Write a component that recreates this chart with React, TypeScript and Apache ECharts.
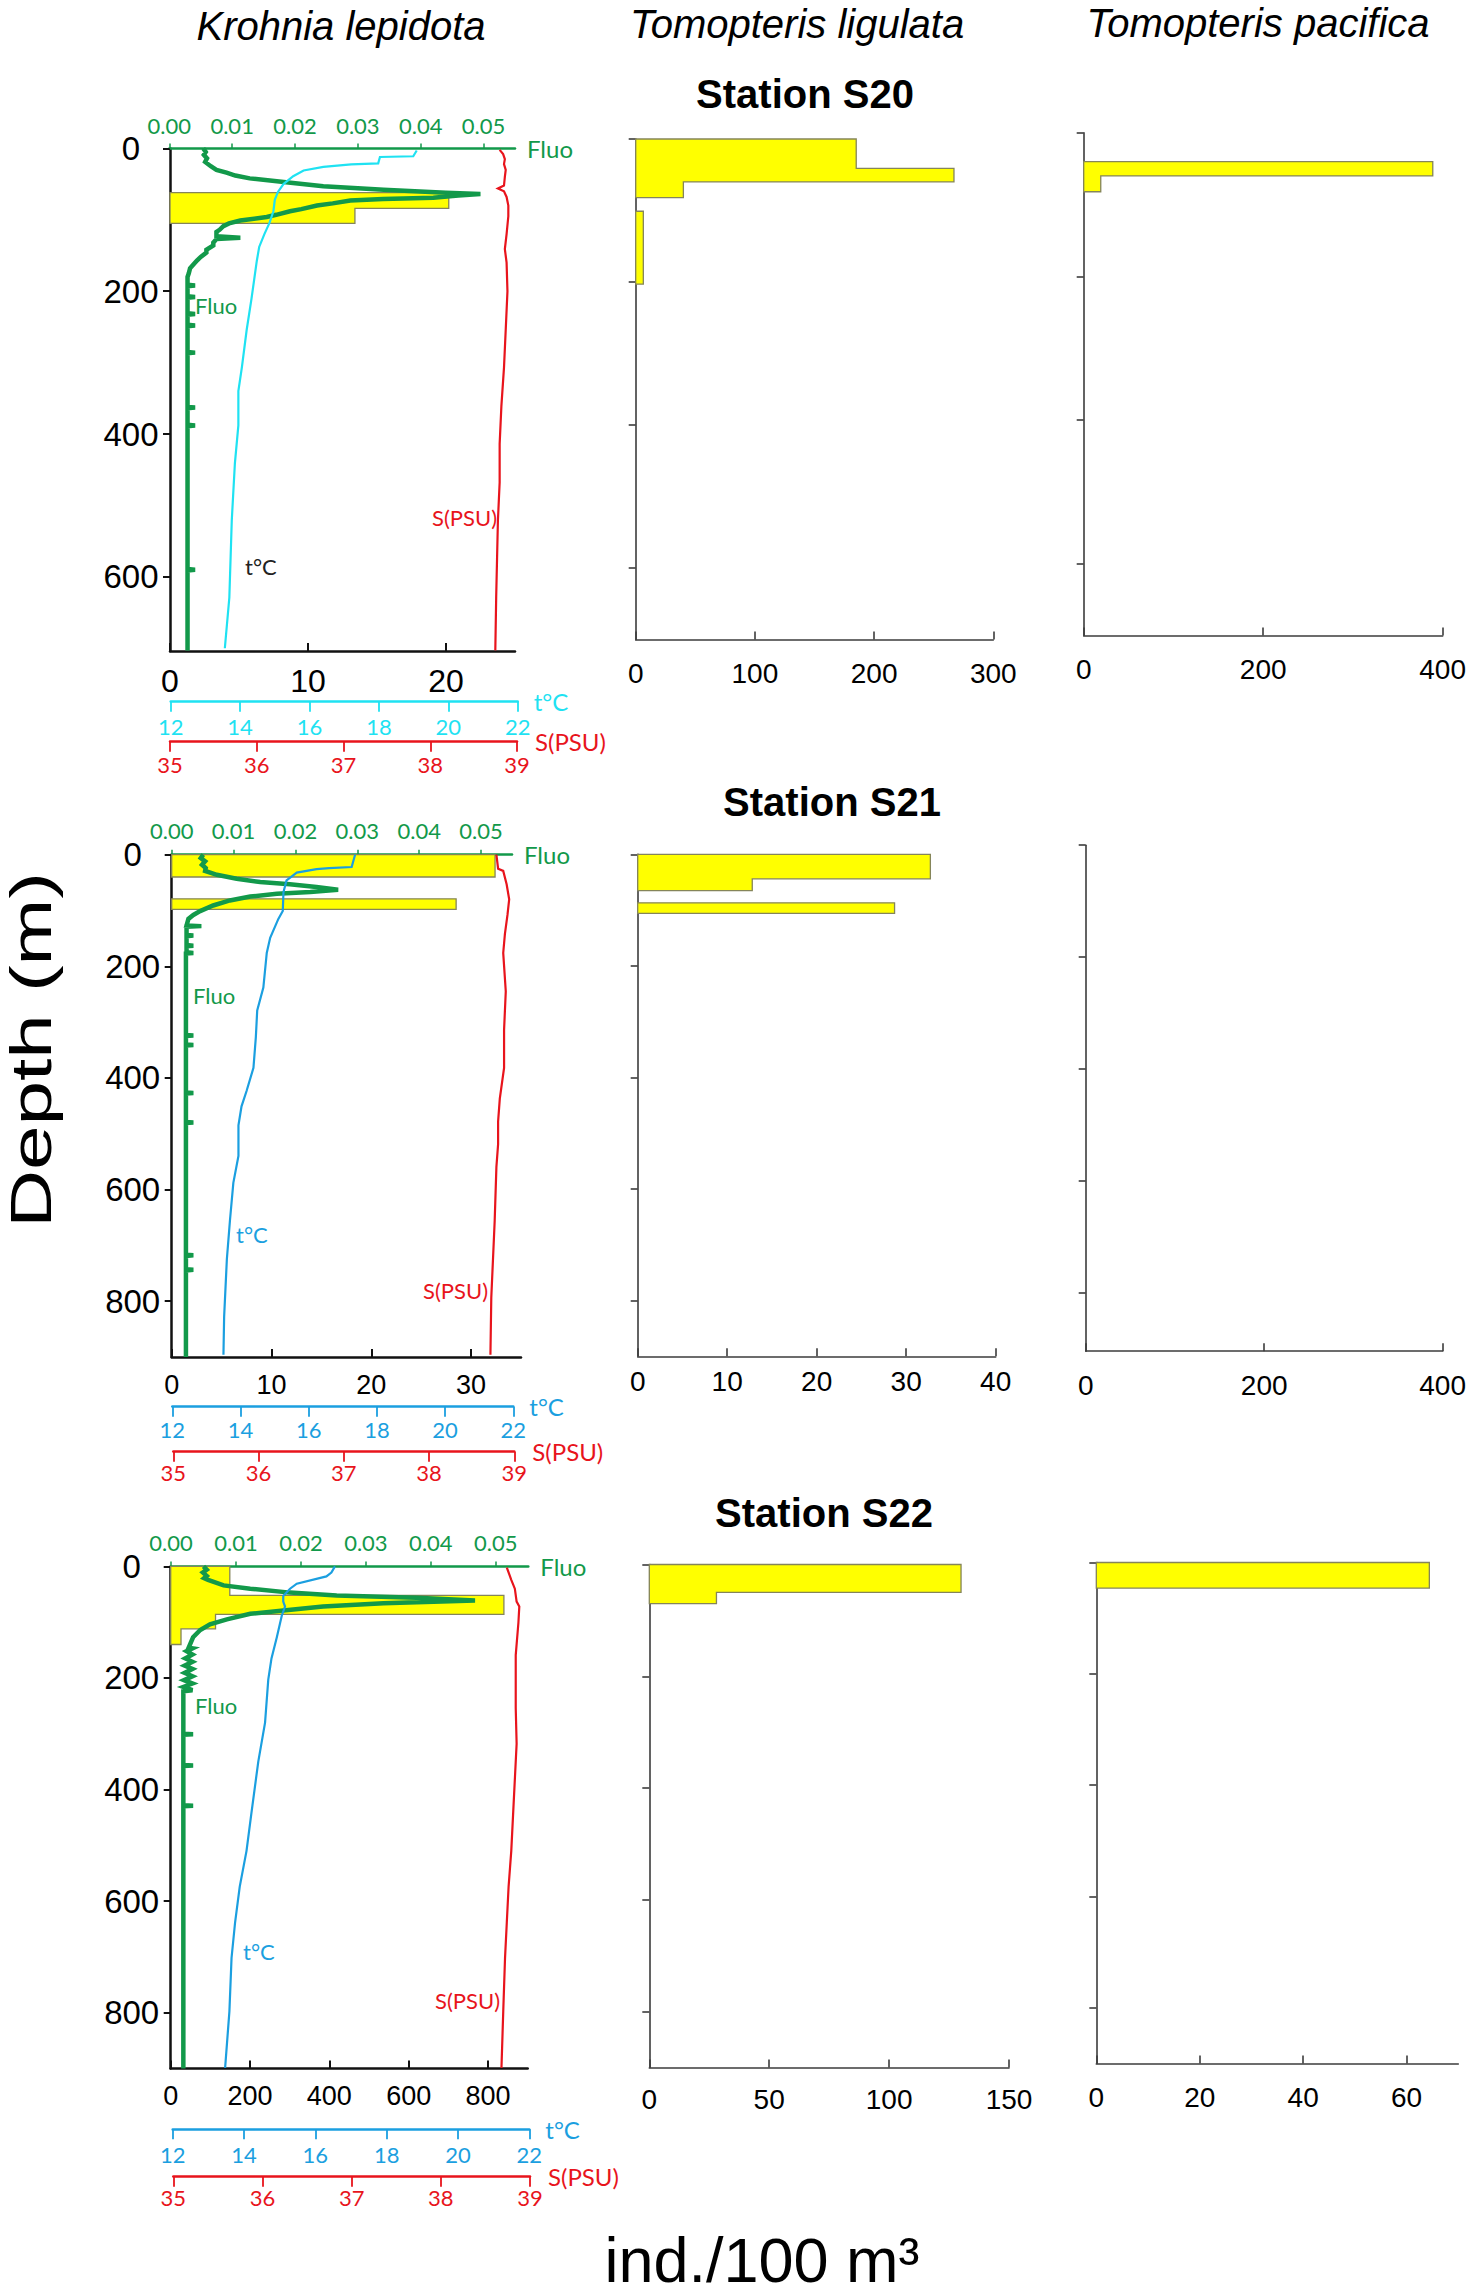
import React, { useEffect, useRef } from "react";
import * as echarts from "echarts";

// ---------------- texts ----------------
const speciesNames = ["Krohnia lepidota", "Tomopteris ligulata", "Tomopteris pacifica"];
const stationNames = ["Station S20", "Station S21", "Station S22"];
const depthAxisTitle = "Depth (m)";
const abundanceTitle = "ind./100 m³";

// ---------------- tick values ----------------
const depthTicksS20 = [0, 200, 400, 600];
const depthTicksDeep = [0, 200, 400, 600, 800];
const fluoTicks = [0, 0.01, 0.02, 0.03, 0.04, 0.05];
const tempTicks = [12, 14, 16, 18, 20, 22];
const salTicks = [35, 36, 37, 38, 39];

const krohniaTicksS20 = [0, 10, 20];
const krohniaTicksS21 = [0, 10, 20, 30];
const krohniaTicksS22 = [0, 200, 400, 600, 800];
const ligulataTicksS20 = [0, 100, 200, 300];
const ligulataTicksS21 = [0, 10, 20, 30, 40];
const ligulataTicksS22 = [0, 50, 100, 150];
const pacificaTicksS20 = [0, 200, 400];
const pacificaTicksS21 = [0, 200, 400];
const pacificaTicksS22 = [0, 20, 40, 60];

// ---------------- abundance bins: [top depth m, bottom depth m, ind./100 m3], contiguous layers grouped ----------------
const krohniaS20 = [[[62, 84, 20.2], [84, 105, 13.4]]];
const krohniaS21 = [[[0, 40, 32.4]], [[79, 98, 28.5]]];
const krohniaS22 = [[[0, 52, 149], [52, 86, 840], [86, 112, 113], [112, 140, 26]]];
const ligulataS20 = [[[0, 41, 185], [41, 60, 267], [60, 82, 40]], [[101, 203, 6.4]]];
const ligulataS21 = [[[0, 44, 32.7], [44, 65, 12.8]], [[87, 106, 28.7]]];
const ligulataS22 = [[[0, 50, 130], [50, 70, 28]]];
const pacificaS20 = [[[40, 60, 389], [60, 82, 19]]];
const pacificaS21: number[][][] = [];
const pacificaS22 = [[[0, 46, 64.4]]];

// ---------------- CTD profiles: [value, depth m] ----------------
const fluoS20 = [
  [0.0054, 0], [0.0058, 5], [0.0055, 9], [0.006, 14], [0.0057, 19], [0.0066, 25], [0.0075, 30], [0.0091, 34],
  [0.0105, 38], [0.0128, 42], [0.0182, 47], [0.0245, 53], [0.0341, 58], [0.044, 62], [0.0495, 64], [0.046, 66],
  [0.042, 69], [0.034, 71], [0.0288, 73], [0.026, 77], [0.0235, 80], [0.021, 85], [0.0192, 88], [0.017, 93],
  [0.0155, 96], [0.0113, 101], [0.0095, 105], [0.0086, 109], [0.008, 114], [0.0075, 117], [0.0075, 123],
  [0.0113, 125], [0.0075, 127], [0.007, 132], [0.007, 136], [0.0059, 142], [0.0059, 146], [0.005, 152],
  [0.0044, 157], [0.0038, 163], [0.0033, 168], [0.0031, 175], [0.0029, 180], [0.0029, 191], [0.0041, 192],
  [0.0029, 193], [0.0029, 207], [0.0041, 208], [0.0029, 209], [0.0029, 231], [0.0041, 232], [0.0029, 233],
  [0.0029, 247], [0.0041, 248], [0.0029, 249], [0.0029, 285], [0.0041, 286], [0.0029, 287], [0.0029, 362],
  [0.0041, 363], [0.0029, 364], [0.0029, 387], [0.0041, 388], [0.0029, 389], [0.0029, 589], [0.0041, 590],
  [0.0029, 591], [0.0029, 703],
];
const tempS20 = [
  [19.09, 3], [18.99, 11], [18.03, 12], [17.98, 21], [17.2, 22.5], [16.4, 26], [15.83, 31], [15.53, 39],
  [15.25, 50], [15.09, 61], [15.0, 72], [14.96, 88], [14.85, 104], [14.7, 120], [14.55, 138], [14.48, 158],
  [14.33, 210], [14.19, 254], [14.05, 307], [13.95, 340], [13.95, 388], [13.85, 441], [13.76, 521],
  [13.69, 629], [13.56, 700],
];
const salS20 = [
  [38.8, 2], [38.84, 8], [38.86, 15], [38.85, 22], [38.87, 30], [38.86, 40], [38.85, 52], [38.78, 56],
  [38.85, 60], [38.88, 68], [38.9, 80], [38.9, 95], [38.88, 120], [38.86, 141], [38.88, 160], [38.89, 200],
  [38.87, 254], [38.85, 307], [38.82, 361], [38.8, 414], [38.8, 468], [38.78, 521], [38.77, 575],
  [38.76, 629], [38.75, 703],
];

const fluoS21 = [
  [0.0051, 0], [0.0047, 6], [0.0054, 12], [0.0049, 18], [0.0055, 24], [0.0054, 29], [0.0073, 36],
  [0.0105, 43], [0.0143, 49], [0.0191, 53], [0.0234, 58], [0.0269, 63], [0.0224, 67], [0.017, 70],
  [0.0127, 75], [0.0094, 82], [0.0067, 91], [0.0046, 101], [0.0035, 108], [0.0027, 115], [0.0024, 127],
  [0.0048, 128], [0.0024, 129], [0.0024, 144], [0.0035, 145], [0.0024, 146], [0.0024, 162], [0.0035, 163],
  [0.0024, 164], [0.0024, 175], [0.0035, 176], [0.0023, 177], [0.0023, 323], [0.0035, 324], [0.0023, 325],
  [0.0023, 340], [0.0035, 341], [0.0023, 342], [0.0023, 426], [0.0035, 427], [0.0023, 428], [0.0023, 479],
  [0.0035, 480], [0.0023, 481], [0.0023, 717], [0.0035, 718], [0.0023, 719], [0.0023, 743], [0.0035, 744],
  [0.0023, 745], [0.0023, 900],
];
const tempS21 = [
  [17.36, 0], [17.26, 22], [16.6, 24], [16.23, 26], [15.65, 32], [15.35, 46], [15.26, 67], [15.24, 101],
  [15.11, 115], [14.87, 149], [14.77, 176], [14.67, 238], [14.49, 279], [14.45, 327], [14.38, 382],
  [14.18, 423], [14.03, 451], [13.94, 485], [13.94, 540], [13.79, 588], [13.69, 656], [13.6, 725],
  [13.52, 828], [13.5, 896],
];
const salS21 = [
  [38.79, 0], [38.81, 25], [38.87, 29], [38.91, 53], [38.94, 80], [38.92, 108], [38.89, 142], [38.87, 176],
  [38.9, 245], [38.88, 314], [38.88, 382], [38.83, 437], [38.81, 478], [38.81, 519], [38.79, 560],
  [38.77, 656], [38.75, 725], [38.73, 794], [38.72, 896],
];

const fluoS22 = [
  [0.005, 0], [0.0055, 6], [0.0049, 11], [0.0055, 17], [0.0051, 21], [0.0057, 24], [0.0081, 34], [0.0122, 40],
  [0.0183, 47], [0.0255, 52], [0.0378, 56], [0.0468, 61], [0.0327, 66], [0.0234, 72], [0.0173, 79],
  [0.0122, 85], [0.0086, 95], [0.006, 104], [0.0045, 114], [0.0034, 127], [0.0027, 146], [0.0033, 147],
  [0.0024, 152], [0.0033, 158], [0.0022, 165], [0.0033, 171], [0.0021, 178], [0.0033, 184], [0.0021, 191],
  [0.0033, 197], [0.002, 204], [0.0033, 210], [0.0019, 216], [0.0033, 222], [0.0019, 224], [0.0019, 300],
  [0.0034, 301], [0.0019, 302], [0.0019, 356], [0.0034, 357], [0.0019, 358], [0.0019, 428], [0.0034, 429],
  [0.0019, 430], [0.0019, 900],
];
const tempS22 = [
  [16.55, 0], [16.45, 11], [16.31, 18], [15.48, 31], [15.29, 40], [15.1, 53], [15.1, 63], [15.15, 72],
  [15.06, 88], [14.92, 127], [14.77, 165], [14.68, 203], [14.59, 280], [14.4, 350], [14.2, 446],
  [14.07, 510], [13.88, 574], [13.75, 638], [13.65, 702], [13.59, 798], [13.47, 899],
];
const salS22 = [
  [38.74, 2], [38.79, 24], [38.83, 40], [38.85, 63], [38.88, 72], [38.87, 101], [38.84, 159], [38.84, 254],
  [38.85, 318], [38.81, 446], [38.79, 510], [38.76, 574], [38.74, 638], [38.72, 702], [38.7, 798],
  [38.68, 899],
];

// ---------------- styles ----------------
const FONT = "'Liberation Sans', Arial, sans-serif";
const FONT2 = "Lato, 'Open Sans', sans-serif";
const GREEN = "#12994a";
const RED = "#e8141c";
const CYAN = "#1fe2f2";
const BLUE = "#1b9fe0";
const BLACK = "#111111";
const THIN = "#3c3c3c";
const YELLOW = "#ffff00";
const BAR_EDGE = "#85855a";

function buildOption() {
  const grids: any[] = [];
  const xAxes: any[] = [];
  const yAxes: any[] = [];
  const series: any[] = [];
  const graphics: any[] = [];

  const addGrid = (g: any) => {
    grids.push({ ...g, containLabel: false });
    return grids.length - 1;
  };
  const addX = (a: any) => {
    xAxes.push(a);
    return xAxes.length - 1;
  };
  const addY = (a: any) => {
    yAxes.push(a);
    return yAxes.length - 1;
  };
  const hiddenX = (gi: number, min: number, max: number) =>
    addX({ gridIndex: gi, type: "value", min, max, show: false });
  const hiddenY = (gi: number, min: number, max: number, inverse = true) =>
    addY({ gridIndex: gi, type: "value", min, max, inverse, show: false });

  const barSeries = (groups: number[][][], xi: number, yi: number) => ({
    type: "custom",
    xAxisIndex: xi,
    yAxisIndex: yi,
    clip: false,
    z: 1,
    silent: true,
    data: groups.map((g, i) => [g[0][2], g[0][0], i]),
    renderItem: (params: any, api: any) => {
      const g = groups[params.dataIndex];
      const pts: number[][] = [];
      pts.push(api.coord([0, g[0][0]]));
      g.forEach((b) => {
        pts.push(api.coord([b[2], b[0]]));
        pts.push(api.coord([b[2], b[1]]));
      });
      pts.push(api.coord([0, g[g.length - 1][1]]));
      return {
        type: "polygon",
        shape: { points: pts },
        style: { fill: YELLOW, stroke: BAR_EDGE, lineWidth: 1.3 },
      };
    },
  });

  const lineSeries = (data: number[][], xi: number, yi: number, color: string, width: number, z: number) => ({
    type: "line",
    xAxisIndex: xi,
    yAxisIndex: yi,
    data,
    showSymbol: false,
    symbol: "none",
    silent: true,
    z,
    lineStyle: { color, width, join: "miter" },
  });

  // ---------- Krohnia panels ----------
  const kPanels = [
    {
      top: 148.4, height: 502.7, depthMax: 704, depthTicks: depthTicksS20,
      abLeft: 170, abWidth: 345, abMax: 25, abTicks: krohniaTicksS20, abFont: 32, abMargin: 14,
      fluoLeft: 169.3, fluoWidth: 345.7, fluoMargin: 12,
      tLeft: 170.7, tWidth: 347, tY: 701.7, tMargin: 14,
      sLeft: 170, sWidth: 347, sY: 741.7, sMargin: 12,
      tColor: CYAN, tNoteColor: "#222222",
      bins: krohniaS20, fluo: fluoS20, temp: tempS20, sal: salS20,
      notes: { fluo: [195, 305], t: [245, 566], s: [432, 517] },
    },
    {
      top: 854.7, height: 502.2, depthMax: 900, depthTicks: depthTicksDeep,
      abLeft: 171.7, abWidth: 349.3, abMax: 35, abTicks: krohniaTicksS21, abFont: 27, abMargin: 15,
      fluoLeft: 171.7, fluoWidth: 340.3, fluoMargin: 13,
      tLeft: 172.3, tWidth: 341, tY: 1406.7, tMargin: 12,
      sLeft: 173.3, sWidth: 341, sY: 1451.7, sMargin: 10,
      tColor: BLUE, tNoteColor: BLUE,
      bins: krohniaS21, fluo: fluoS21, temp: tempS21, sal: salS21,
      notes: { fluo: [193, 995], t: [236, 1234], s: [423, 1290] },
    },
    {
      top: 1566.4, height: 502, depthMax: 900, depthTicks: depthTicksDeep,
      abLeft: 170.7, abWidth: 357, abMax: 900, abTicks: krohniaTicksS22, abFont: 27, abMargin: 14,
      fluoLeft: 171, fluoWidth: 357.3, fluoMargin: 13,
      tLeft: 172.7, tWidth: 356.6, tY: 2129.3, tMargin: 14,
      sLeft: 173.3, sWidth: 356.7, sY: 2176.7, sMargin: 10,
      tColor: BLUE, tNoteColor: BLUE,
      bins: krohniaS22, fluo: fluoS22, temp: tempS22, sal: salS22,
      notes: { fluo: [195, 1705], t: [243, 1951], s: [435, 2000] },
    },
  ];

  kPanels.forEach((p) => {
    // abundance grid with depth axis
    const gA = addGrid({ left: p.abLeft, top: p.top, width: p.abWidth, height: p.height });
    const xA = addX({
      gridIndex: gA, type: "value", min: 0, max: p.abMax, position: "bottom",
      axisLine: { show: true, onZero: false, lineStyle: { color: BLACK, width: 2.5 } },
      axisTick: { show: true, inside: true, length: 8, customValues: p.abTicks, lineStyle: { color: BLACK, width: 2 } },
      axisLabel: { show: true, customValues: p.abTicks, fontSize: p.abFont, margin: p.abMargin, color: "#000", fontFamily: FONT },
      splitLine: { show: false },
    });
    const yA = addY({
      gridIndex: gA, type: "value", inverse: true, min: 0, max: p.depthMax, position: "left",
      axisLine: { show: true, onZero: false, lineStyle: { color: BLACK, width: 2.5 } },
      axisTick: { show: true, length: 7, customValues: p.depthTicks, lineStyle: { color: BLACK, width: 2 } },
      axisLabel: {
        show: true, customValues: p.depthTicks, fontSize: 33, margin: 39, align: "center",
        color: "#000", fontFamily: FONT,
      },
      splitLine: { show: false },
    });
    series.push(barSeries(p.bins, xA, yA));

    // fluorescence grid (top axis)
    const gB = addGrid({ left: p.fluoLeft, top: p.top, width: p.fluoWidth, height: p.height });
    const xB = addX({
      gridIndex: gB, type: "value", min: 0, max: 0.055, position: "top",
      name: "Fluo", nameLocation: "end", nameGap: 12,
      nameTextStyle: { color: GREEN, fontSize: 24, fontFamily: FONT2 },
      axisLine: { show: true, onZero: false, lineStyle: { color: GREEN, width: 2.5 } },
      axisTick: { show: true, length: 5, customValues: fluoTicks, lineStyle: { color: GREEN, width: 1.5 } },
      axisLabel: {
        show: true, customValues: fluoTicks, fontSize: 22, margin: p.fluoMargin, color: GREEN, fontFamily: FONT2,
        formatter: (v: number) => v.toFixed(2),
      },
      splitLine: { show: false },
    });
    const yB = hiddenY(gB, 0, p.depthMax);
    series.push(lineSeries(p.fluo, xB, yB, GREEN, 4.5, 3));

    // salinity overlay
    const gD = addGrid({ left: p.sLeft, top: p.top, width: p.sWidth, height: p.height });
    const xD = hiddenX(gD, 35, 39);
    const yD = hiddenY(gD, 0, p.depthMax);
    series.push(lineSeries(p.sal, xD, yD, RED, 2.2, 4));

    // temperature overlay
    const gC = addGrid({ left: p.tLeft, top: p.top, width: p.tWidth, height: p.height });
    const xC = hiddenX(gC, 12, 22);
    const yC = hiddenY(gC, 0, p.depthMax);
    series.push(lineSeries(p.temp, xC, yC, p.tColor, 2.2, 5));

    // temperature scale bar
    const gE = addGrid({ left: p.tLeft, top: p.tY - 1, width: p.tWidth, height: 1 });
    addX({
      gridIndex: gE, type: "value", min: 12, max: 22, position: "bottom",
      name: "t°C", nameLocation: "end", nameGap: 16,
      nameTextStyle: { color: p.tColor, fontSize: 24, fontFamily: FONT2, padding: [10, 0, 0, 0] },
      axisLine: { show: true, onZero: false, lineStyle: { color: p.tColor, width: 2.5 } },
      axisTick: { show: true, length: 10, customValues: tempTicks, lineStyle: { color: p.tColor, width: 1.8 } },
      axisLabel: { show: true, customValues: tempTicks, fontSize: 22, margin: p.tMargin, color: p.tColor, fontFamily: FONT2 },
      splitLine: { show: false },
    });
    hiddenY(gE, 0, 1);

    // salinity scale bar
    const gF = addGrid({ left: p.sLeft, top: p.sY - 1, width: p.sWidth, height: 1 });
    addX({
      gridIndex: gF, type: "value", min: 35, max: 39, position: "bottom",
      name: "S(PSU)", nameLocation: "end", nameGap: 18,
      nameTextStyle: { color: RED, fontSize: 24, fontFamily: FONT2 },
      axisLine: { show: true, onZero: false, lineStyle: { color: RED, width: 2.5 } },
      axisTick: { show: true, length: 10, customValues: salTicks, lineStyle: { color: RED, width: 1.8 } },
      axisLabel: { show: true, customValues: salTicks, fontSize: 22, margin: p.sMargin, color: RED, fontFamily: FONT2 },
      splitLine: { show: false },
    });
    hiddenY(gF, 0, 1);

    // in-panel notes
    const note = (text: string, pos: number[], color: string) =>
      graphics.push({
        type: "text", x: pos[0], y: pos[1], silent: true,
        style: { text, fill: color, fontSize: 22, fontFamily: FONT2, align: "left", verticalAlign: "middle" },
      });
    note("Fluo", p.notes.fluo, GREEN);
    note("t°C", p.notes.t, p.tNoteColor);
    note("S(PSU)", p.notes.s, RED);
  });

  // ---------- Tomopteris panels ----------
  const tPanels = [
    { left: 635.7, top: 139, width: 357.6, height: 500.6, depthMax: 700, depthTicks: depthTicksS20, max: 300, ticks: ligulataTicksS20, margin: 20, bins: ligulataS20 },
    { left: 1083.7, top: 132.9, width: 359.6, height: 502.5, depthMax: 700, depthTicks: depthTicksS20, max: 400, ticks: pacificaTicksS20, margin: 20, bins: pacificaS20 },
    { left: 637.7, top: 854.3, width: 358, height: 502, depthMax: 900, depthTicks: depthTicksDeep, max: 40, ticks: ligulataTicksS21, margin: 11, bins: ligulataS21 },
    { left: 1085.7, top: 845.2, width: 359.3, height: 506, depthMax: 905, depthTicks: depthTicksDeep, max: 400, ticks: pacificaTicksS21, margin: 20, bins: pacificaS21 },
    { left: 649.3, top: 1564.5, width: 359.7, height: 503, depthMax: 900, depthTicks: depthTicksDeep, max: 150, ticks: ligulataTicksS22, margin: 18, bins: ligulataS22 },
    { left: 1096.3, top: 1562.5, width: 362, height: 501, depthMax: 900, depthTicks: depthTicksDeep, max: 70, ticks: pacificaTicksS22, margin: 20, bins: pacificaS22 },
  ];
  tPanels.forEach((p) => {
    const g = addGrid({ left: p.left, top: p.top, width: p.width, height: p.height });
    const xi = addX({
      gridIndex: g, type: "value", min: 0, max: p.max, position: "bottom",
      axisLine: { show: true, onZero: false, lineStyle: { color: THIN, width: 1.6 } },
      axisTick: { show: true, inside: true, length: 8, customValues: p.ticks, lineStyle: { color: THIN, width: 1.6 } },
      axisLabel: { show: true, customValues: p.ticks, fontSize: 28, margin: p.margin, color: "#000", fontFamily: FONT },
      splitLine: { show: false },
    });
    const yi = addY({
      gridIndex: g, type: "value", inverse: true, min: 0, max: p.depthMax, position: "left",
      axisLine: { show: true, onZero: false, lineStyle: { color: THIN, width: 1.6 } },
      axisTick: { show: true, length: 7, customValues: p.depthTicks, lineStyle: { color: THIN, width: 1.6 } },
      axisLabel: { show: false },
      splitLine: { show: false },
    });
    if (p.bins.length) series.push(barSeries(p.bins, xi, yi));
  });

  // ---------- titles ----------
  const titlePos = [[341, 26], [797, 24], [1258, 23]];
  speciesNames.forEach((t, i) =>
    graphics.push({
      type: "text", x: titlePos[i][0], y: titlePos[i][1], silent: true,
      style: { text: t, fill: "#000", fontSize: 40, fontStyle: "italic", fontFamily: FONT, align: "center", verticalAlign: "middle" },
    })
  );
  const stationPos = [[805, 94], [832, 802], [824, 1513]];
  stationNames.forEach((t, i) =>
    graphics.push({
      type: "text", x: stationPos[i][0], y: stationPos[i][1], silent: true,
      style: { text: t, fill: "#000", fontSize: 40, fontWeight: "bold", fontFamily: FONT, align: "center", verticalAlign: "middle" },
    })
  );
  graphics.push({
    type: "text", x: 31, y: 1050, rotation: Math.PI / 2, scaleX: 1.38, scaleY: 1, silent: true,
    style: { text: depthAxisTitle, fill: "#000", fontSize: 58, fontFamily: FONT, align: "center", verticalAlign: "middle" },
  });
  graphics.push({
    type: "text", x: 762, y: 2260, silent: true,
    style: {
      text: abundanceTitle, fill: "#000", fontSize: 63, lineHeight: 63, fontFamily: FONT,
      align: "center", verticalAlign: "middle",
    },
  });

  return {
    animation: false,
    backgroundColor: "#ffffff",
    textStyle: { fontFamily: FONT },
    grid: grids,
    xAxis: xAxes,
    yAxis: yAxes,
    series,
    graphic: { elements: graphics },
  };
}

export default function App() {
  const ref = useRef<HTMLDivElement>(null);
  useEffect(() => {
    if (!ref.current) return;
    const chart = echarts.init(ref.current, undefined, { renderer: "svg" });
    chart.setOption(buildOption());
    return () => chart.dispose();
  }, []);
  return (
    <div
      ref={ref}
      style={{ position: "absolute", left: 0, top: 0, width: 1469, height: 2295, background: "#fff" }}
    />
  );
}
